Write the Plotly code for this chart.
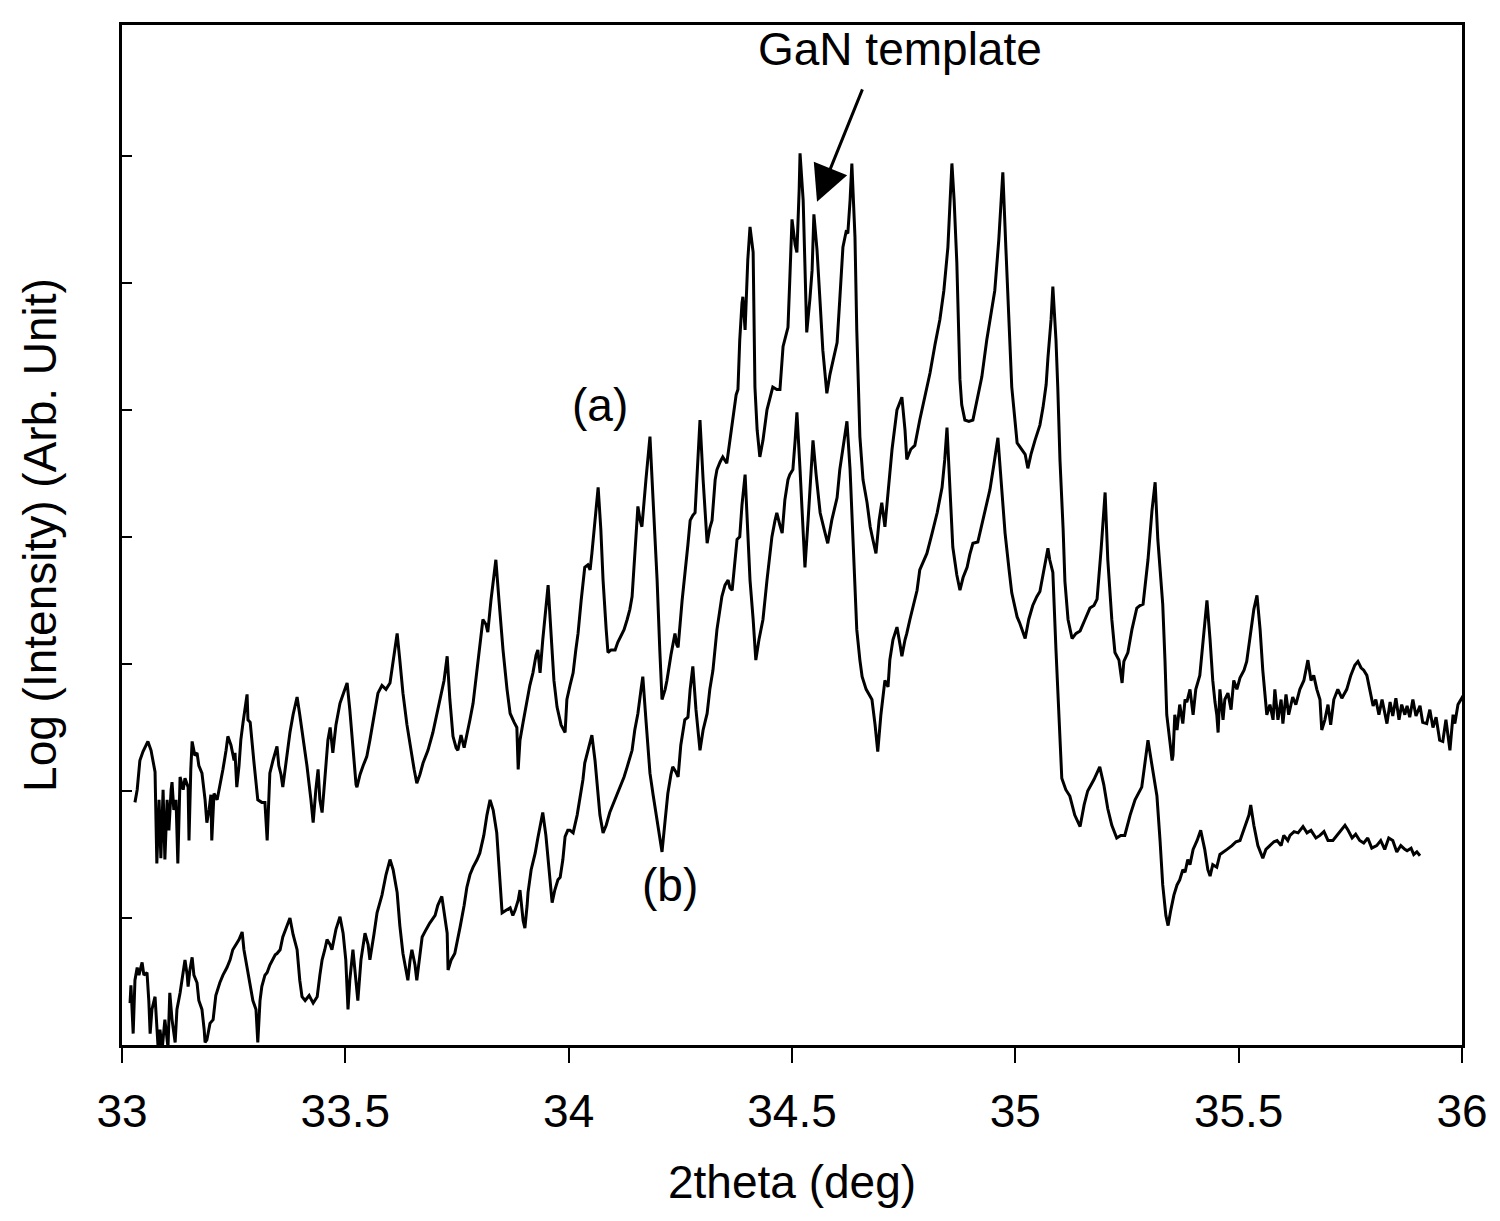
import plotly.graph_objects as go

# ---- curve (a) : 2theta (deg), log intensity (arb.) ----
two_theta_a = [
    33.029,33.034,33.040,33.047,33.058,33.065,33.074,33.078,33.083,33.087,
    33.092,33.096,33.101,33.105,33.110,33.112,33.116,33.121,33.125,33.130,
    33.137,33.141,33.148,33.150,33.154,33.157,33.163,33.168,33.172,33.179,
    33.186,33.190,33.195,33.199,33.201,33.206,33.213,33.219,33.226,33.233,
    33.237,33.244,33.251,33.253,33.257,33.262,33.266,33.271,33.275,33.280,
    33.282,33.287,33.295,33.304,33.313,33.320,33.325,33.329,33.331,33.338,
    33.347,33.351,33.356,33.360,33.367,33.376,33.383,33.392,33.398,33.405,
    33.414,33.423,33.428,33.434,33.439,33.443,33.448,33.454,33.461,33.466,
    33.470,33.472,33.479,33.488,33.497,33.504,33.510,33.517,33.524,33.526,
    33.533,33.540,33.548,33.555,33.562,33.569,33.573,33.582,33.591,33.600,
    33.607,33.616,33.622,33.629,33.638,33.645,33.654,33.660,33.667,33.674,
    33.685,33.696,33.705,33.712,33.721,33.728,33.734,33.741,33.748,33.752,
    33.759,33.766,33.772,33.779,33.786,33.792,33.801,33.808,33.815,33.819,
    33.826,33.833,33.837,33.844,33.853,33.862,33.869,33.878,33.884,33.887,
    33.891,33.898,33.907,33.913,33.920,33.927,33.931,33.936,33.942,33.949,
    33.954,33.960,33.967,33.974,33.983,33.992,33.996,34.003,34.010,34.016,
    34.021,34.028,34.036,34.043,34.048,34.052,34.059,34.066,34.072,34.077,
    34.084,34.088,34.095,34.104,34.110,34.115,34.124,34.131,34.137,34.142,
    34.148,34.155,34.160,34.164,34.173,34.182,34.189,34.198,34.204,34.209,
    34.216,34.220,34.229,34.238,34.242,34.245,34.254,34.260,34.267,34.272,
    34.278,34.283,34.289,34.294,34.301,34.310,34.316,34.321,34.328,34.332,
    34.339,34.345,34.354,34.361,34.368,34.375,34.379,34.383,34.388,34.390,
    34.395,34.401,34.406,34.413,34.417,34.422,34.428,34.435,34.444,34.451,
    34.457,34.466,34.473,34.480,34.486,34.491,34.495,34.500,34.507,34.511,
    34.516,34.518,34.525,34.529,34.533,34.540,34.545,34.549,34.556,34.563,
    34.569,34.578,34.585,34.592,34.601,34.607,34.614,34.621,34.625,34.630,
    34.634,34.641,34.645,34.652,34.659,34.668,34.675,34.681,34.688,34.695,
    34.701,34.708,34.715,34.724,34.735,34.746,34.753,34.757,34.766,34.775,
    34.786,34.798,34.809,34.820,34.831,34.840,34.849,34.854,34.858,34.863,
    34.869,34.876,34.880,34.887,34.896,34.905,34.914,34.925,34.936,34.945,
    34.954,34.963,34.972,34.979,34.986,34.992,35.004,35.015,35.022,35.028,
    35.035,35.044,35.055,35.062,35.069,35.073,35.080,35.084,35.091,35.095,
    35.100,35.107,35.111,35.118,35.127,35.136,35.145,35.156,35.167,35.176,
    35.183,35.192,35.201,35.207,35.216,35.223,35.232,35.239,35.243,35.252,
    35.261,35.272,35.279,35.286,35.297,35.306,35.313,35.319,35.326,35.330,
    35.335,35.339,35.346,35.351,35.353,35.357,35.362,35.368,35.375,35.380,
    35.384,35.391,35.398,35.404,35.413,35.420,35.429,35.436,35.442,35.447,
    35.451,35.454,35.458,35.465,35.469,35.476,35.483,35.489,35.496,35.503,
    35.512,35.518,35.525,35.534,35.541,35.548,35.554,35.563,35.570,35.577,
    35.581,35.588,35.595,35.599,35.606,35.612,35.621,35.628,35.637,35.646,
    35.655,35.662,35.668,35.675,35.682,35.686,35.693,35.700,35.706,35.713,
    35.722,35.731,35.742,35.751,35.760,35.767,35.774,35.780,35.787,35.794,
    35.801,35.807,35.814,35.821,35.827,35.832,35.839,35.845,35.852,35.859,
    35.865,35.872,35.877,35.883,35.890,35.897,35.906,35.912,35.921,35.928,
    35.935,35.942,35.950,35.957,35.964,35.973,35.980,35.984,35.991,36.000,
    36.006,36.013,36.022,
]
log_int_a = [
    1.91,2.01,2.24,2.31,2.39,2.32,2.15,1.43,1.93,1.47,
    2.01,1.46,1.93,1.69,2.01,2.07,1.85,1.93,1.43,2.11,
    2.01,2.10,2.03,1.61,2.17,2.39,2.28,2.30,2.20,2.14,
    1.93,1.75,1.85,1.97,1.61,1.98,1.93,2.03,2.17,2.32,
    2.43,2.36,2.24,2.30,2.03,2.20,2.40,2.54,2.64,2.76,
    2.56,2.54,2.24,1.93,1.91,1.91,1.61,2.01,2.14,2.24,
    2.35,2.20,2.13,2.03,2.24,2.46,2.60,2.74,2.60,2.43,
    2.20,1.93,1.75,2.01,2.17,1.93,1.83,2.09,2.40,2.50,
    2.32,2.30,2.52,2.69,2.78,2.85,2.64,2.32,2.05,2.03,
    2.13,2.20,2.27,2.40,2.54,2.68,2.77,2.83,2.80,2.85,
    3.03,3.24,3.03,2.77,2.52,2.35,2.17,2.06,2.13,2.22,
    2.32,2.46,2.60,2.72,2.87,3.06,2.72,2.43,2.34,2.32,
    2.44,2.34,2.43,2.56,2.69,2.87,3.09,3.35,3.31,3.25,
    3.50,3.74,3.82,3.50,3.11,2.80,2.61,2.54,2.50,2.17,
    2.40,2.54,2.72,2.83,2.93,3.07,3.11,2.93,3.19,3.46,
    3.62,3.27,2.87,2.66,2.52,2.46,2.72,2.83,2.93,3.11,
    3.24,3.50,3.76,3.78,3.74,3.87,4.13,4.39,4.06,3.66,
    3.27,3.09,3.11,3.11,3.17,3.21,3.27,3.35,3.43,3.53,
    3.90,4.24,4.13,4.08,4.45,4.79,4.29,3.66,3.11,2.72,
    2.80,2.87,3.07,3.24,3.15,3.13,3.50,3.69,3.94,4.13,
    4.17,4.19,4.61,4.92,4.45,3.95,4.07,4.13,4.45,4.53,
    4.59,4.63,4.58,4.76,4.98,5.12,5.16,5.55,5.84,5.89,
    5.63,6.18,6.44,6.24,5.18,4.84,4.63,4.76,5.00,5.09,
    5.18,5.16,5.16,5.50,5.59,5.65,6.02,6.50,6.30,6.24,
    6.73,7.02,6.65,6.02,5.61,5.87,6.10,6.54,6.26,5.84,
    5.47,5.13,5.28,5.39,5.53,5.87,6.28,6.40,6.39,6.65,
    6.94,6.36,5.63,4.79,4.45,4.27,4.08,3.98,3.87,4.13,
    4.27,4.08,4.37,4.69,5.00,5.10,4.84,4.61,4.69,4.72,
    4.92,5.12,5.29,5.51,5.71,5.94,6.28,6.65,6.94,6.65,
    6.16,5.24,5.04,4.92,4.91,4.92,5.08,5.26,5.55,5.75,
    5.94,6.34,6.87,6.26,5.63,5.18,4.74,4.69,4.65,4.54,
    4.65,4.76,4.88,5.02,5.20,5.41,5.71,5.97,5.55,5.18,
    4.60,4.06,3.65,3.35,3.20,3.24,3.26,3.35,3.44,3.46,
    3.51,3.90,4.35,3.82,3.35,3.09,3.03,2.85,3.02,3.09,
    3.27,3.44,3.46,3.47,3.82,4.21,4.43,3.98,3.66,3.47,
    3.03,2.60,2.39,2.24,2.28,2.60,2.48,2.68,2.53,2.72,
    2.70,2.80,2.60,2.80,2.91,3.19,3.50,3.19,2.87,2.70,
    2.60,2.46,2.80,2.56,2.72,2.77,2.64,2.87,2.80,2.89,
    2.95,3.02,3.19,3.43,3.54,3.27,2.95,2.60,2.68,2.56,
    2.80,2.56,2.72,2.53,2.76,2.60,2.74,2.68,2.80,2.87,
    3.03,2.87,2.91,2.80,2.72,2.48,2.56,2.68,2.52,2.72,
    2.80,2.73,2.80,2.91,2.99,3.02,2.97,2.95,2.91,2.80,
    2.67,2.72,2.60,2.72,2.62,2.53,2.70,2.59,2.73,2.56,
    2.68,2.60,2.67,2.58,2.72,2.59,2.67,2.54,2.53,2.64,
    2.50,2.58,2.40,2.39,2.56,2.32,2.60,2.53,2.68,2.73,
    2.77,2.64,2.46,
]

# ---- curve (b) ----
two_theta_b = [
    33.018,33.020,33.025,33.029,33.034,33.038,33.045,33.049,33.056,33.060,
    33.063,33.067,33.074,33.078,33.081,33.085,33.090,33.096,33.101,33.103,
    33.107,33.112,33.119,33.123,33.130,33.134,33.141,33.146,33.148,33.152,
    33.157,33.161,33.168,33.172,33.179,33.184,33.186,33.190,33.197,33.204,
    33.210,33.219,33.226,33.235,33.242,33.248,33.255,33.262,33.269,33.273,
    33.280,33.287,33.293,33.300,33.304,33.309,33.313,33.320,33.325,33.331,
    33.338,33.343,33.347,33.354,33.360,33.367,33.376,33.383,33.392,33.398,
    33.403,33.410,33.419,33.428,33.437,33.443,33.448,33.454,33.459,33.466,
    33.470,33.479,33.488,33.495,33.501,33.506,33.510,33.517,33.522,33.528,
    33.535,33.544,33.551,33.555,33.564,33.571,33.582,33.591,33.600,33.607,
    33.616,33.622,33.629,33.634,33.640,33.645,33.649,33.656,33.660,33.667,
    33.672,33.681,33.689,33.701,33.707,33.716,33.723,33.728,33.730,33.737,
    33.745,33.752,33.757,33.766,33.772,33.779,33.786,33.795,33.801,33.810,
    33.817,33.824,33.831,33.839,33.846,33.851,33.860,33.869,33.875,33.880,
    33.887,33.891,33.898,33.902,33.907,33.909,33.916,33.925,33.931,33.938,
    33.942,33.949,33.956,33.963,33.969,33.976,33.981,33.987,33.992,33.998,
    34.003,34.010,34.019,34.025,34.032,34.036,34.043,34.052,34.059,34.063,
    34.070,34.077,34.084,34.092,34.104,34.115,34.124,34.131,34.142,34.148,
    34.155,34.162,34.166,34.173,34.182,34.189,34.198,34.204,34.209,34.216,
    34.222,34.229,34.233,34.240,34.245,34.251,34.260,34.267,34.272,34.278,
    34.285,34.294,34.301,34.310,34.316,34.323,34.332,34.343,34.350,34.357,
    34.361,34.366,34.372,34.377,34.383,34.388,34.395,34.401,34.406,34.413,
    34.419,34.426,34.435,34.444,34.455,34.462,34.466,34.473,34.478,34.484,
    34.491,34.495,34.502,34.507,34.511,34.518,34.525,34.529,34.536,34.542,
    34.547,34.554,34.563,34.572,34.580,34.589,34.601,34.607,34.616,34.623,
    34.630,34.636,34.641,34.645,34.652,34.657,34.666,34.675,34.679,34.686,
    34.692,34.699,34.708,34.715,34.719,34.726,34.735,34.742,34.746,34.753,
    34.757,34.764,34.771,34.780,34.786,34.795,34.802,34.813,34.825,34.836,
    34.842,34.847,34.854,34.860,34.869,34.876,34.883,34.892,34.898,34.905,
    34.916,34.925,34.932,34.943,34.952,34.961,34.968,34.977,34.986,34.992,
    35.004,35.010,35.022,35.030,35.039,35.048,35.055,35.064,35.073,35.077,
    35.084,35.091,35.098,35.104,35.113,35.122,35.133,35.145,35.154,35.162,
    35.176,35.189,35.198,35.207,35.216,35.227,35.236,35.245,35.257,35.268,
    35.283,35.290,35.297,35.306,35.317,35.324,35.330,35.337,35.342,35.348,
    35.355,35.362,35.368,35.375,35.380,35.386,35.391,35.398,35.407,35.415,
    35.424,35.431,35.436,35.442,35.451,35.458,35.467,35.474,35.485,35.494,
    35.503,35.514,35.523,35.527,35.534,35.543,35.554,35.561,35.570,35.579,
    35.586,35.595,35.601,35.610,35.615,35.624,35.633,35.644,35.653,35.662,
    35.673,35.682,35.691,35.700,35.711,35.720,35.729,35.738,35.745,35.754,
    35.762,35.771,35.780,35.789,35.798,35.809,35.818,35.827,35.836,35.845,
    35.854,35.863,35.872,35.877,35.886,35.892,35.899,35.906,
]
log_int_b = [
    0.33,0.47,0.09,0.51,0.61,0.55,0.65,0.55,0.57,0.35,
    0.09,0.28,0.38,0.12,-0.03,0.12,-0.03,0.20,0.04,-0.02,
    0.41,0.20,0.02,0.28,0.41,0.51,0.67,0.55,0.46,0.59,
    0.69,0.55,0.49,0.35,0.28,0.12,0.02,0.04,0.17,0.20,
    0.39,0.49,0.55,0.61,0.67,0.75,0.79,0.83,0.89,0.75,
    0.61,0.47,0.35,0.28,0.02,0.35,0.46,0.55,0.57,0.63,
    0.67,0.71,0.72,0.75,0.85,0.91,1.00,0.87,0.75,0.51,
    0.38,0.35,0.39,0.33,0.38,0.55,0.67,0.75,0.83,0.79,
    0.75,0.91,1.01,0.88,0.67,0.28,0.51,0.75,0.55,0.35,
    0.67,0.88,0.79,0.67,0.87,1.04,1.18,1.34,1.46,1.38,
    1.20,0.94,0.72,0.63,0.51,0.67,0.75,0.63,0.51,0.71,
    0.85,0.91,0.96,1.02,1.10,1.17,1.02,0.88,0.59,0.67,
    0.72,0.83,0.93,1.10,1.24,1.34,1.40,1.46,1.51,1.65,
    1.81,1.93,1.85,1.67,1.30,1.04,1.06,1.08,1.02,1.06,
    1.14,1.22,0.98,0.92,1.10,1.20,1.38,1.51,1.63,1.77,
    1.83,1.65,1.38,1.12,1.22,1.30,1.32,1.46,1.64,1.69,
    1.69,1.67,1.81,1.93,2.09,2.22,2.32,2.44,2.24,2.09,
    1.81,1.67,1.73,1.83,1.93,2.03,2.11,2.19,2.32,2.48,
    2.61,2.80,2.90,2.56,2.14,1.97,1.77,1.61,1.52,1.77,
    1.98,2.13,2.19,2.15,2.11,2.36,2.56,2.58,2.80,2.98,
    2.64,2.32,2.48,2.61,2.80,2.95,3.27,3.53,3.62,3.66,
    3.60,3.58,3.82,3.98,4.00,4.25,4.49,4.06,3.66,3.35,
    3.03,3.19,3.35,3.66,4.00,4.13,4.19,4.09,4.03,4.29,
    4.45,4.49,4.53,4.76,4.98,4.53,3.98,3.76,4.13,4.53,
    4.76,4.49,4.19,4.06,3.95,4.13,4.31,4.53,4.76,4.91,
    4.53,3.98,3.58,3.27,3.03,2.90,2.80,2.74,2.72,2.52,
    2.31,2.60,2.87,2.82,3.03,3.19,3.29,3.15,3.06,3.19,
    3.24,3.35,3.45,3.58,3.74,3.82,3.87,4.02,4.19,4.39,
    4.61,4.86,4.37,3.92,3.70,3.58,3.68,3.76,3.86,3.95,
    3.96,4.09,4.21,4.37,4.57,4.78,4.45,4.03,3.74,3.56,
    3.37,3.32,3.20,3.35,3.46,3.53,3.57,3.74,3.91,3.82,
    3.72,3.11,2.56,2.10,2.01,1.96,1.81,1.72,1.89,2.00,
    2.09,2.19,2.05,1.86,1.73,1.63,1.65,1.65,1.81,1.93,
    2.03,2.20,2.40,2.20,1.96,1.61,1.26,1.02,0.94,1.06,
    1.18,1.26,1.30,1.38,1.36,1.46,1.42,1.54,1.61,1.69,
    1.54,1.38,1.33,1.42,1.40,1.50,1.52,1.54,1.57,1.60,
    1.61,1.73,1.81,1.89,1.73,1.57,1.47,1.54,1.57,1.60,
    1.61,1.57,1.65,1.61,1.65,1.68,1.67,1.72,1.67,1.69,
    1.63,1.65,1.68,1.61,1.61,1.65,1.69,1.73,1.69,1.63,
    1.66,1.61,1.59,1.63,1.55,1.57,1.61,1.54,1.63,1.61,
    1.52,1.57,1.54,1.53,1.55,1.50,1.52,1.49,
]

x_tick_vals = [33, 33.5, 34, 34.5, 35, 35.5, 36]
x_tick_text = ["33", "33.5", "34", "34.5", "35", "35.5", "36"]
y_tick_vals = [1, 2, 3, 4, 5, 6, 7]

FONT = "Liberation Sans, Arial, Helvetica, sans-serif"

fig = go.Figure()
fig.add_trace(go.Scatter(x=two_theta_a, y=log_int_a, mode="lines",
                         line=dict(color="black", width=3), name="(a)"))
fig.add_trace(go.Scatter(x=two_theta_b, y=log_int_b, mode="lines",
                         line=dict(color="black", width=3), name="(b)"))

fig.add_annotation(x=34.070, y=5.04, text="(a)", showarrow=False,
                   font=dict(size=46, family=FONT, color="black"))
fig.add_annotation(x=34.227, y=1.26, text="(b)", showarrow=False,
                   font=dict(size=46, family=FONT, color="black"))
fig.add_annotation(x=34.742, y=7.84, text="GaN template", showarrow=False,
                   font=dict(size=46, family=FONT, color="black"))
fig.add_annotation(x=34.556, y=6.638, ax=34.659, ay=7.535, axref="x", ayref="y",
                   text="", showarrow=True, arrowhead=2, arrowsize=2.4,
                   arrowwidth=3, arrowcolor="black")

# page body has an 8px margin, so the figure is drawn 8px smaller than the window
fig.update_layout(
    width=1492, height=1213,
    margin=dict(l=114, r=38, t=17, b=176),
    plot_bgcolor="white", paper_bgcolor="white",
    showlegend=False,
    font=dict(family=FONT, color="black"),
)
fig.update_xaxes(
    range=[33, 36], tickvals=x_tick_vals, ticktext=x_tick_text,
    ticks="outside", ticklen=15, tickwidth=2, tickcolor="black",
    showline=True, linewidth=3, linecolor="black", mirror=True,
    showgrid=False, zeroline=False,
    tickfont=dict(size=46, family=FONT, color="black"),
    ticklabelstandoff=9,
    title=dict(text="2theta (deg)", font=dict(size=46, family=FONT, color="black"), standoff=30),
    automargin=False,
)
fig.update_yaxes(
    range=[0, 8.03], tickvals=y_tick_vals, showticklabels=False,
    ticks="inside", ticklen=10, tickwidth=2, tickcolor="black",
    showline=True, linewidth=3, linecolor="black", mirror=True,
    showgrid=False, zeroline=False,
    title=dict(text="Log (Intensity) (Arb. Unit)", font=dict(size=46, family=FONT, color="black"), standoff=48),
    automargin=False,
)

fig.write_html("out.html")
